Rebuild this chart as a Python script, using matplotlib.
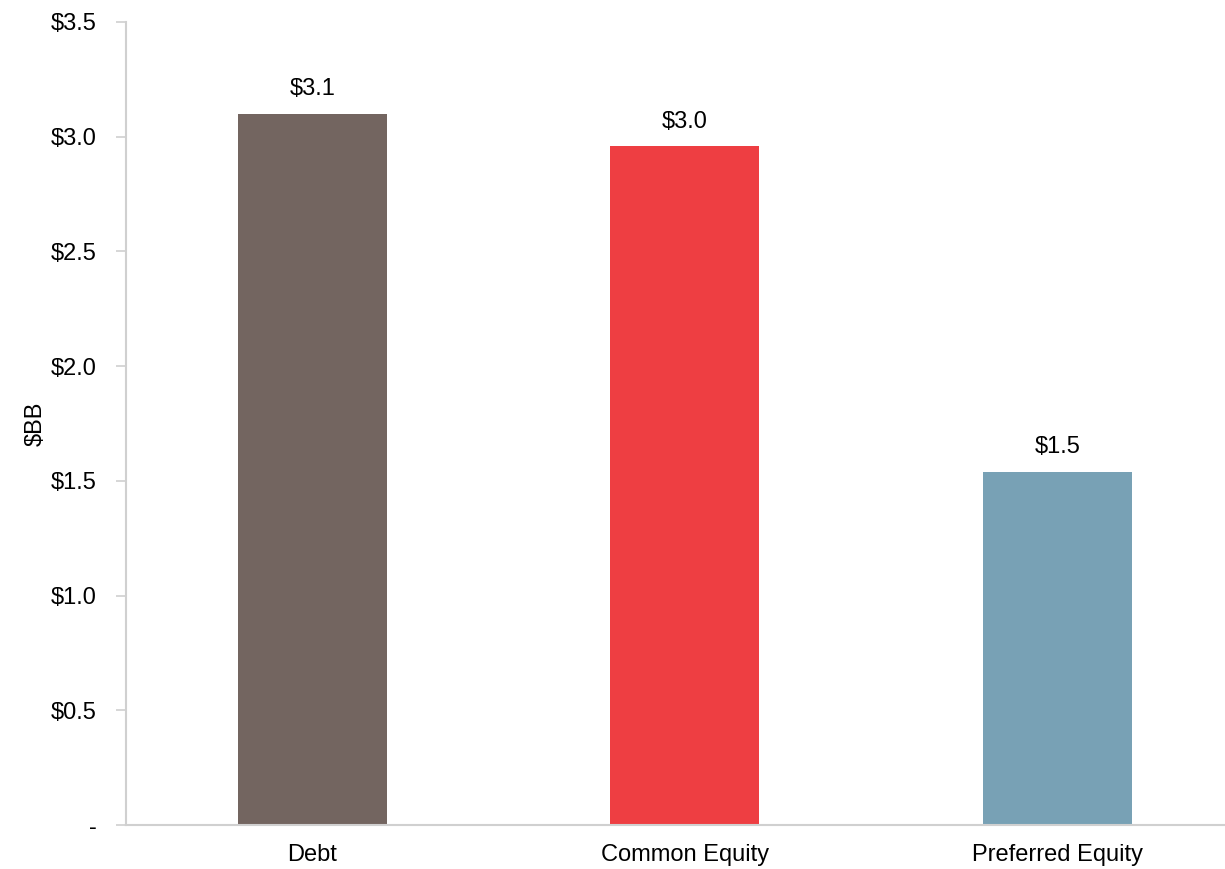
import matplotlib
matplotlib.use("Agg")
import matplotlib.pyplot as plt

categories = ["Debt", "Common Equity", "Preferred Equity"]
values = [3.10, 2.96, 1.54]
colors = ["#736560", "#EE3E42", "#78A1B5"]
y_ticks = [0, 0.5, 1.0, 1.5, 2.0, 2.5, 3.0, 3.5]
y_tick_labels = ["-", "$0.5", "$1.0", "$1.5", "$2.0", "$2.5", "$3.0", "$3.5"]

plt.rcParams["font.family"] = ["Liberation Sans", "DejaVu Sans"]
FS = 17

fig = plt.figure(figsize=(12.25, 8.69), dpi=100)
ax = fig.add_axes([0.1029, 0.0506, 0.8971, 0.9241])

x = list(range(len(categories)))
bars = ax.bar(x, values, width=0.4, color=colors, zorder=2)

for xi, v in zip(x, values):
    ax.annotate(f"${v:.1f}", (xi, v), xytext=(0, 17.5), textcoords="offset points",
                ha="center", va="center", fontsize=FS, color="#000000")

ax.set_xlim(-0.5, 2.45)
ax.set_ylim(0, 3.5)
ax.set_xticks(x)
ax.set_xticklabels(categories, fontsize=FS)
ax.set_yticks(y_ticks)
ax.set_yticklabels(y_tick_labels, fontsize=FS)
ax.set_ylabel("$BB", fontsize=FS, labelpad=3)

for side in ["top", "right"]:
    ax.spines[side].set_visible(False)
for side in ["left", "bottom"]:
    ax.spines[side].set_color("#D0D0D0")
    ax.spines[side].set_linewidth(1.5)

ax.tick_params(axis="y", direction="out", length=7, width=1.2, color="#D0D0D0", pad=14)
ax.tick_params(axis="x", length=0, pad=14)

fig.savefig("out.png", dpi=100)
